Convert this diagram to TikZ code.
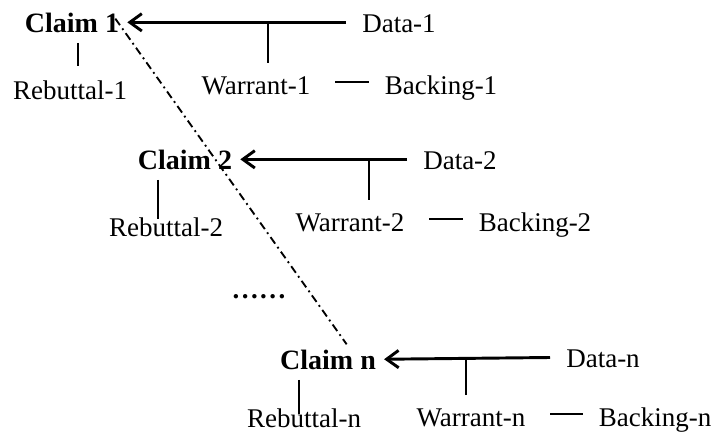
\documentclass[tikz,border=0pt]{standalone}
\usepackage{fontspec}
\setmainfont{Liberation Serif}
\usetikzlibrary{arrows.meta}
\tikzstyle{claim}=[font=\fontsize{21}{24}\selectfont\bfseries,inner sep=0pt,anchor=base]
\tikzstyle{part}=[font=\fontsize{20.25}{24}\selectfont,inner sep=0pt,anchor=base]
\tikzstyle{edge} = [draw,line width=2.2pt,-{Straight Barb[length=9pt,width=13pt]},shorten <=12pt,shorten >=6pt]
\tikzstyle{stem} = [draw,line width=1.4pt]
\tikzstyle{link} = [draw,line width=1.4pt,shorten <=18.4pt,shorten >=12pt]
\tikzstyle{chain} = [draw,line width=1.4pt,dash pattern=on 6pt off 3pt on 1.4pt off 3pt]

\begin{document}
\begin{tikzpicture}[x=0.75pt,y=-0.75pt]
\useasboundingbox (0,0) rectangle (722,438);
	% First we draw the claims and their parts
	\foreach \pos/\name/\txt in {{(72,33)/claim1/Claim 1}, {(185,170)/claim2/Claim 2}, {(328,370)/claimn/Claim n}}
	\node[claim] (\name) at \pos {\txt};

	\foreach \pos/\name/\txt in {{(399,33)/data1/Data-1}, {(460,170)/data2/Data-2}, {(603,368)/datan/Data-n},
	                             {(256,95)/warrant1/Warrant-1}, {(350,232)/warrant2/Warrant-2}, {(471,427)/warrantn/Warrant-n},
	                             {(441,95)/backing1/Backing-1}, {(535,232)/backing2/Backing-2}, {(655,427)/backingn/Backing-n},
	                             {(70,100)/rebuttal1/Rebuttal-1}, {(166,237)/rebuttal2/Rebuttal-2}, {(304,428)/rebuttaln/Rebuttal-n}}
	\node[part] (\name) at \pos {\txt};

	\node[part,font=\fontsize{20.25}{24}\selectfont\bfseries\addfontfeatures{LetterSpace=9}] (more) at (259,299) {......};

	% Connect data to claims
	\foreach \source/ \dest in {data1/claim1, data2/claim2, datan/claimn}
	\path[edge] ([yshift=8pt]\source.base west) -- ([yshift=8pt]\dest.base east);

	% Warrants hang from the arrows
	\foreach \w/ \d /\dx in {warrant1/data1/9pt, warrant2/data2/14pt, warrantn/datan/-4pt}
	\path[stem] ([xshift=\dx,yshift=10.5pt]\w.north) -- ([xshift=\dx]\w.north |- \d.west);

	\foreach \w/ \b in {warrant1/backing1, warrant2/backing2, warrantn/backingn}
	\path[link] ([yshift=9.75pt]\w.base east) -- ([yshift=9.75pt]\b.base west);

	% Rebuttals under the claims
	\foreach \c/ \r /\dx/\gap in {claim1/rebuttal1/4.5pt/11pt, claim2/rebuttal2/-20pt/-1pt, claimn/rebuttaln/-22pt/-4pt}
	\path[stem] ([xshift=\dx,yshift=-7pt]\c.south) -- ([xshift=\dx,yshift=\gap]\c.south |- \r.north);

	\path[chain] ([xshift=-3pt,yshift=-4pt]claim1.north east) -- ([xshift=14pt,yshift=4.5pt]claimn.north);
\end{tikzpicture}
\end{document}
